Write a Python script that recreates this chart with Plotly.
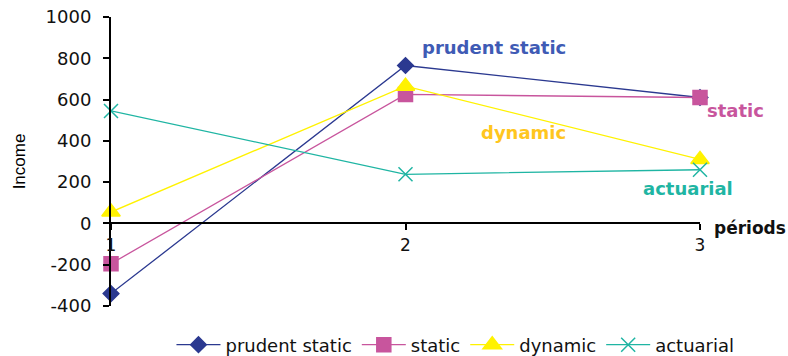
import plotly.graph_objects as go

periods = [1, 2, 3]
prudent_static = [-340, 765, 610]
static = [-195, 625, 610]
dynamic = [55, 665, 310]
actuarial = [545, 238, 260]
y_ticks = [-400, -200, 0, 200, 400, 600, 800, 1000]

FONT = "DejaVu Sans"

series = [
    ("prudent static", prudent_static, "#2B3990", "diamond", 12),
    ("static", static, "#C8559D", "square", 14),
    ("dynamic", dynamic, "#FFF200", "triangle-up", 16),
    ("actuarial", actuarial, "#1FB5A3", "x-thin", 14),
]

fig = go.Figure()
for name, vals, col, sym, size in series:
    fig.add_trace(go.Scatter(
        x=periods, y=vals, name=name, mode="lines+markers",
        line=dict(color=col, width=1.3),
        marker=dict(symbol=sym, size=size, color=col,
                    line=dict(color=col, width=1.5)),
        cliponaxis=False,
    ))

labels = [
    ("prudent static", "x", 2.05, 850, "#3F5BB5", "left"),
    ("static", "paper", 1.0085, 549, "#C8559D", "left"),
    ("dynamic", "x", 2.40, 442, "#FFC61E", "center"),
    ("actuarial", "x", 2.96, 170, "#1FB5A3", "center"),
]
for txt, xr, x, y, col, anc in labels:
    fig.add_annotation(x=x, xref=xr, y=y, yref="y", text=f"<b>{txt}</b>",
                       showarrow=False, xanchor=anc, yanchor="middle",
                       font=dict(color=col, size=18, family=FONT))

fig.add_annotation(x=1.02, xref="paper", y=-20, yref="y", text="<b>périods</b>",
                   showarrow=False, xanchor="left", yanchor="middle",
                   font=dict(color="#111", size=17, family=FONT))

fig.update_layout(
    width=788, height=356,
    margin=dict(l=111, r=88, t=17, b=50, autoexpand=False),
    paper_bgcolor="white", plot_bgcolor="white",
    font=dict(family=FONT, size=17, color="#111"),
    showlegend=True,
    legend=dict(orientation="h", x=0.578, xanchor="center", xref="container",
                y=11/356, yref="container", yanchor="middle", itemwidth=44,
                font=dict(size=18, family=FONT), tracegroupgap=0),
    xaxis=dict(range=[1, 3], tickvals=periods, ticktext=[str(p) for p in periods],
               showgrid=False, zeroline=False, showline=True, linecolor="black",
               linewidth=2, ticks="outside", ticklen=6, tickwidth=2,
               tickcolor="black", anchor="free", position=400/1400,
               tickfont=dict(size=17), automargin=False),
    yaxis=dict(range=[-400, 1000], tickvals=y_ticks,
               ticktext=[str(v) for v in y_ticks], showgrid=False,
               zeroline=False, showline=True, linecolor="black", linewidth=2,
               ticks="outside", ticklen=6, tickwidth=2, tickcolor="black",
               ticklabelstandoff=8, automargin=False,
               title=dict(text="Income", font=dict(size=17, family="Liberation Sans",
                                                    color="#000"), standoff=16),
               tickfont=dict(size=18)),
)

fig.write_html("out.html", config={"displayModeBar": False},
               post_script="document.body.style.margin='0';")
